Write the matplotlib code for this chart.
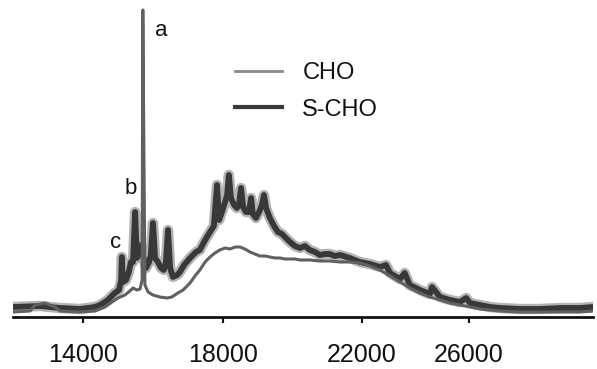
import numpy as np
import matplotlib
matplotlib.use("Agg")
import matplotlib.pyplot as plt
from matplotlib.lines import Line2D

plt.rcParams['font.family'] = ['Liberation Sans', 'DejaVu Sans']

# ---------------- data ----------------
scho_mz = [12000, 12770, 13340, 13910, 14340, 14490, 14710, 14910, 15030, 15090,
           15110, 15140, 15230, 15310, 15370, 15430, 15490, 15540, 15600, 15660,
           15710, 15800, 15890, 15940, 16000, 16060, 16140, 16230, 16310, 16370,
           16430, 16490, 16570, 16690, 16770, 16890, 17060, 17230, 17340, 17490,
           17630, 17740, 17830, 17890, 17970, 18060, 18120, 18170, 18230, 18320,
           18400, 18460, 18520, 18580, 18660, 18750, 18810, 18860, 18950, 19040,
           19120, 19180, 19240, 19350, 19470, 19580, 19700, 19810, 19930, 20070,
           20220, 20360, 20500, 20650, 20790, 20940, 21080, 21220, 21370, 21650,
           21940, 22300, 22670, 22900, 23050, 23420, 23600, 23790, 24170, 24540,
           24620, 24920, 25290, 25660, 25900, 26040, 26410, 26790, 27160, 27910,
           28650, 29400, 30150, 30640]
scho_int = [10, 11, 9, 8, 10, 12, 17, 24, 27, 37,
            60, 35, 37, 45, 55, 55, 105, 59, 67, 72,
            62, 49, 55, 62, 94, 59, 55, 49, 47, 55,
            87, 49, 40, 42, 45, 52, 59, 65, 67, 77,
            85, 91, 132, 97, 105, 115, 122, 142, 119, 112,
            109, 112, 129, 110, 105, 105, 119, 103, 99, 105,
            112, 122, 109, 99, 91, 85, 83, 79, 75, 71,
            69, 71, 67, 65, 62, 63, 63, 61, 62, 59,
            55, 53, 50, 52, 44, 38, 44, 32, 27, 23,
            30, 20, 17, 15, 19, 14, 12, 10, 9, 8,
            8, 9, 9, 10]

cho_mz = [12000, 12490, 12630, 12910, 13200, 13340, 13910, 14340, 14630, 14830,
          15000, 15200, 15340, 15430, 15540, 15630, 15690, 15710, 15770, 15860,
          16000, 16200, 16400, 16540, 16710, 16860, 17060, 17200, 17340, 17490,
          17630, 17770, 17910, 18060, 18200, 18350, 18490, 18630, 18780, 18920,
          19060, 19210, 19350, 19500, 19640, 19780, 19930, 20070, 20220, 20500,
          20790, 21080, 21370, 21650, 21940, 22300, 22670, 23050, 23420, 23790,
          24170, 24540, 24920, 25290, 25660, 26040, 26410, 27160, 27910, 28650,
          29400, 30150, 30640]
cho_int = [5, 6, 12, 14, 10, 6, 5, 6, 10, 15,
           19, 22, 26, 29, 27, 28, 37, 307, 32, 25,
           22, 20, 19, 20, 24, 27, 34, 41, 47, 55,
           60, 64, 67, 69, 68, 70, 70, 68, 65, 63,
           61, 61, 60, 59, 59, 58, 58, 58, 57, 57,
           56, 56, 55, 55, 54, 51, 47, 41, 35, 29,
           24, 20, 17, 14, 12, 10, 8, 6, 5, 5,
           5, 5, 6]

tick_values = [14000, 18000, 22000, 26000]
tick_labels = ["14000", "18000", "22000", "26000"]
series_names = ["CHO", "S-CHO"]
peak_labels = ["a", "b", "c"]
peak_mz = [16230, 15370, 14940]
peak_int = [286, 129, 75]

# ---------------- axis scale (printed axis is not evenly spaced) ----------------
KX = np.array([10000, 14000, 18000, 22000, 26000, 34000], dtype=float)
KP = np.array([-57, 83, 223, 362, 469, 683], dtype=float)

def fwd(x):
    return np.interp(x, KX, KP)

def inv(p):
    return np.interp(p, KP, KX)

# ---------------- figure ----------------
W, H = 597, 369
fig = plt.figure(figsize=(W / 100, H / 100), dpi=100)
ax = fig.add_axes([13 / W, 52 / H, 580 / W, 312 / H])
ax.set_xscale('function', functions=(fwd, inv))

c_cho = '#606060'
c_scho = '#383838'
# scanned look: light fringe under the dark S-CHO trace
ax.plot(scho_mz, scho_int, color='#b4b4b4', lw=7.5, solid_joinstyle='round', zorder=1)
ax.plot(scho_mz, scho_int, color=c_scho, lw=4.2, solid_joinstyle='round', zorder=2)
ax.plot(cho_mz, cho_int, color=c_cho, lw=2.2, solid_joinstyle='round', zorder=3)

ax.set_xlim(12000, 30640)
ax.set_ylim(0, 312)

for s in ['top', 'right', 'left']:
    ax.spines[s].set_visible(False)
ax.spines['bottom'].set_linewidth(2.0)
ax.spines['bottom'].set_color('#111111')
ax.spines['bottom'].set_zorder(4)
ax.set_yticks([])
ax.set_xticks(tick_values)
ax.set_xticklabels(tick_labels)
ax.xaxis.set_minor_locator(matplotlib.ticker.NullLocator())
ax.tick_params(axis='x', direction='out', length=4, width=1.5, pad=15,
               labelsize=18, colors='#111111')

for lab, mx, iy in zip(peak_labels, peak_mz, peak_int):
    ax.text(mx, iy, lab, fontsize=16, ha='center', va='center', color='#111111')

handles = [Line2D([0], [0], color='#8a8a8a', lw=2.0),
           Line2D([0], [0], color='#3a3a3a', lw=3.0)]
leg = ax.legend(handles, series_names, loc='upper left',
                bbox_to_anchor=(235 / W, 1 - 62 / H), bbox_transform=fig.transFigure,
                frameon=False, fontsize=17, handlelength=2.0, handletextpad=0.85,
                labelspacing=0.62, borderpad=0, borderaxespad=0)
for t in leg.get_texts():
    t.set_color('#111111')

fig.savefig('out.png', dpi=100)
